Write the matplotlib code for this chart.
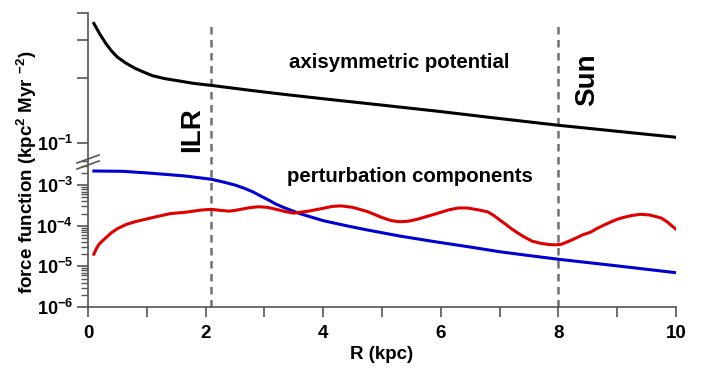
import matplotlib
matplotlib.use("Agg")
import matplotlib.pyplot as plt
from matplotlib.transforms import blended_transform_factory
from matplotlib.ticker import FixedLocator, FixedFormatter, LogLocator, NullFormatter

plt.rcParams['font.family'] = ['Liberation Sans', 'DejaVu Sans']
plt.rcParams['font.weight'] = 'bold'
plt.rcParams['mathtext.fontset'] = 'custom'
for k in ['rm', 'it', 'bf', 'sf']:
    plt.rcParams['mathtext.' + k] = 'Liberation Sans:bold'

# ---- data ----
R_axi = [0.1, 0.2, 0.3, 0.4, 0.5, 0.65, 0.8, 0.95, 1.1, 1.3, 1.5, 1.8, 2.1, 2.8, 3.35, 4.0,
         5.0, 6.0, 7.0, 8.0, 9.0, 10.0]
F_axi = [0.358, 0.320, 0.290, 0.267, 0.250, 0.234, 0.222, 0.213, 0.205, 0.199, 0.195, 0.189,
         0.185, 0.175, 0.168, 0.1605, 0.150, 0.140, 0.130, 0.121, 0.1135, 0.1065]

R_blue = [0.1, 0.6, 1.1, 1.65, 2.1, 2.3, 2.5, 2.65, 2.8, 2.95, 3.1, 3.2, 3.35, 3.6, 4.0, 4.4,
          4.75, 5.3, 5.9, 6.5, 7.0, 7.5, 8.0, 9.0, 10.0]
F_blue = [2.24e-3, 2.2e-3, 1.96e-3, 1.69e-3, 1.40e-3, 1.2e-3, 1.01e-3, 8.5e-4, 6.9e-4, 5.3e-4,
          4.1e-4, 3.4e-4, 2.75e-4, 2.0e-4, 1.34e-4, 1.0e-4, 7.9e-5, 5.6e-5, 4.06e-5, 3.0e-5,
          2.3e-5, 1.85e-5, 1.5e-5, 1.03e-5, 7.0e-6]

R_red = [0.1, 0.14, 0.18, 0.24, 0.3, 0.4, 0.5, 0.65, 0.8, 1.1, 1.4, 1.65, 1.93, 2.1, 2.25,
         2.4, 2.5, 2.6, 2.75, 2.9, 3.05, 3.2, 3.35, 3.5, 3.75, 4.0, 4.15, 4.3, 4.5, 4.75,
         5.0, 5.15, 5.3, 5.45, 5.6, 5.85, 6.0, 6.15, 6.3, 6.45, 6.65, 6.8, 6.9, 7.0, 7.1,
         7.2, 7.3, 7.4, 7.55, 7.7, 7.85, 7.95, 8.05, 8.2, 8.3, 8.4, 8.55, 8.65, 8.75, 8.9,
         9.0, 9.1, 9.25, 9.4, 9.55, 9.65, 9.75, 9.85, 10.0]
F_red = [2.0e-5, 2.7e-5, 3.4e-5, 4.2e-5, 5.0e-5, 6.8e-5, 8.5e-5, 1.08e-4, 1.26e-4, 1.6e-4,
         2.0e-4, 2.15e-4, 2.45e-4, 2.55e-4, 2.4e-4,
         2.3e-4, 2.4e-4, 2.55e-4, 2.8e-4, 2.95e-4, 2.85e-4, 2.55e-4, 2.25e-4, 2.05e-4,
         2.3e-4, 2.7e-4, 3.0e-4, 3.1e-4, 2.85e-4, 2.25e-4,
         1.6e-4, 1.35e-4, 1.26e-4, 1.3e-4, 1.45e-4, 1.85e-4, 2.15e-4, 2.5e-4, 2.75e-4,
         2.75e-4, 2.45e-4, 2.2e-4, 1.8e-4, 1.4e-4, 1.1e-4,
         8.5e-5, 6.8e-5, 5.5e-5, 4.2e-5, 3.7e-5, 3.45e-5, 3.4e-5, 3.5e-5, 4.3e-5, 5.0e-5,
         5.9e-5, 7.0e-5, 8.5e-5, 1.0e-4, 1.26e-4,
         1.45e-4, 1.6e-4, 1.8e-4, 1.92e-4, 1.85e-4, 1.7e-4, 1.55e-4, 1.25e-4, 8.2e-5]

R_ILR = 2.1
R_SUN = 8.0

x_ticks = [0, 2, 4, 6, 8, 10]
top_ticks = [0.1, 0.2, 0.3, 0.4]
top_labels = [r'$10^{-1}$', '', '', '']
bot_ticks = [1e-6, 1e-5, 1e-4, 1e-3]
bot_labels = [r'$10^{-6}$', r'$10^{-5}$', r'$10^{-4}$', r'$10^{-3}$']

W, H = 702, 370
fig = plt.figure(figsize=(W / 100, H / 100), dpi=100)
left = 88 / W
width = (676 - 88) / W
y_axis_bottom = 307
y_break = 160
y_top = 13
ax_bot = fig.add_axes([left, 1 - y_axis_bottom / H, width, (y_axis_bottom - y_break) / H])
ax_top = fig.add_axes([left, 1 - y_break / H, width, (y_break - y_top) / H])

spine_c = '#555555'
for ax in (ax_top, ax_bot):
    ax.set_yscale('log')
    ax.set_xlim(0, 10)
    ax.spines['top'].set_visible(False)
    ax.spines['right'].set_visible(False)
    ax.spines['left'].set_color(spine_c)
    ax.spines['left'].set_linewidth(1.2)
    ax.patch.set_alpha(0)

ax_top.spines['bottom'].set_visible(False)
ax_bot.spines['bottom'].set_color(spine_c)
ax_bot.spines['bottom'].set_linewidth(1.2)

lw = 2.2

# top axes
ax_top.set_ylim(0.0836, 0.4)
ax_top.yaxis.set_major_locator(FixedLocator(top_ticks))
ax_top.yaxis.set_major_formatter(FixedFormatter(top_labels))
ax_top.yaxis.set_minor_locator(FixedLocator([]))
ax_top.tick_params(axis='y', which='major', length=8, width=1.2, color=spine_c, labelsize=13, pad=3)
ax_top.tick_params(axis='x', bottom=False, labelbottom=False)
ax_top.plot(R_axi, F_axi, color='black', lw=lw, solid_joinstyle='round')

# bottom axes
ax_bot.set_ylim(1e-6, 4.18e-3)
ax_bot.yaxis.set_major_locator(FixedLocator(bot_ticks))
ax_bot.yaxis.set_major_formatter(FixedFormatter(bot_labels))
ax_bot.yaxis.set_minor_locator(LogLocator(base=10, subs=range(2, 10), numticks=20))
ax_bot.yaxis.set_minor_formatter(NullFormatter())
ax_bot.tick_params(axis='y', which='major', length=8, width=1.2, color=spine_c, labelsize=13, pad=3)
ax_bot.tick_params(axis='y', which='minor', length=5, width=1.0, color=spine_c)
ax_bot.set_xticks(range(0, 11))
ax_bot.set_xticklabels([str(t) if t in x_ticks else '' for t in range(0, 11)])
ax_bot.tick_params(axis='x', which='major', length=7, width=1.2, color=spine_c, labelsize=13.5, pad=6)
ax_bot.plot(R_blue, F_blue, color='#0000d0', lw=lw, solid_joinstyle='round')
ax_bot.plot(R_red, F_red, color='#e00000', lw=lw, solid_joinstyle='round')

# dashed vertical markers across both panels
trans = blended_transform_factory(ax_bot.transData, fig.transFigure)
for r in (R_ILR, R_SUN):
    ax_bot.plot([r, r], [1 - y_axis_bottom / H, 1 - 22 / H], transform=trans, clip_on=False,
                color='#707070', lw=1.8, linestyle=(0, (3.0, 2.2)), zorder=1)

# break marks on y axis
for dy in (0, 6):
    yb = 1 - (163 + dy) / H
    fig.add_artist(plt.Line2D([77 / W, 99 / W], [yb, yb + 8 / H], color=spine_c, lw=1.2))

# labels
ax_bot.set_xlabel('R (kpc)', fontsize=13.5, fontweight='bold', labelpad=3)
fig.text(27 / W, 1 - 172 / H, r'force function (kpc$^{2}$ Myr $^{-2}$)', rotation=90,
         ha='center', va='center', fontsize=13.5, fontweight='bold')

fig.text(399 / W, 1 - 62 / H, 'axisymmetric potential', ha='center', va='center',
         fontsize=14.7, fontweight='bold')
fig.text(410 / W, 1 - 176 / H, 'perturbation components', ha='center', va='center',
         fontsize=14.7, fontweight='bold')
fig.text(192 / W, 1 - 130 / H, 'ILR', rotation=90, ha='center', va='center',
         fontsize=20, fontweight='bold')
fig.text(587 / W, 1 - 80 / H, 'Sun', rotation=90, ha='center', va='center',
         fontsize=20, fontweight='bold')

fig.savefig('out.png', dpi=100)
